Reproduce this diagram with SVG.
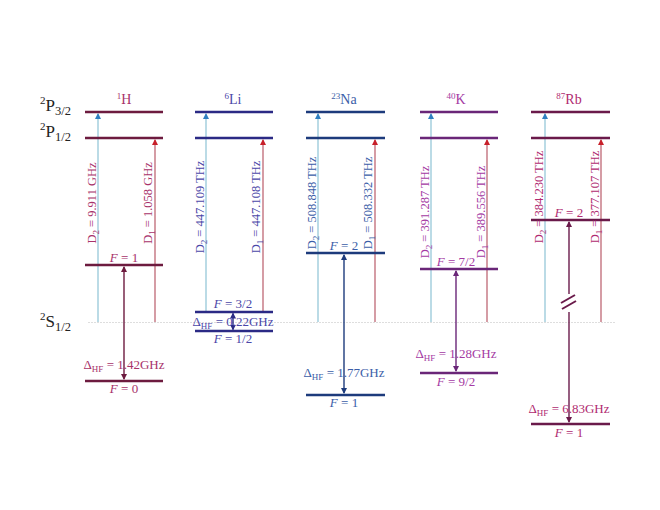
<svg xmlns="http://www.w3.org/2000/svg" width="660" height="510" viewBox="0 0 660 510">
<style>
text{font-family:"Liberation Serif","DejaVu Serif",serif;}
.lv{stroke-width:2.4;fill:none}
.d2{stroke:#8ec3d6;stroke-width:1.2}
.d1{stroke:#b24b5b;stroke-width:1.1}
.hf{stroke-width:1.4;fill:none}
.lab{font-size:13px;text-anchor:middle}
.vt{font-size:12.5px;text-anchor:middle}
.st{font-size:17px;fill:#222}
.ti{font-size:14px;text-anchor:middle}
.H{stroke:#6d1b3f}.Ht{fill:#a8326a}
.L{stroke:#2b2a85}.Lt{fill:#4b47a8}
.N{stroke:#1d3b7c}.Nt{fill:#3b5ea8}
.K{stroke:#6a2678}.Kt{fill:#a43aa3}
.R{stroke:#6a1a4a}.Rt{fill:#b02a70}
</style>
<defs>
<marker id="ab" markerWidth="6" markerHeight="6" refX="5" refY="3" orient="auto" markerUnits="userSpaceOnUse"><path d="M0,0L6,3L0,6z" fill="#2f7fc0"/></marker>
<marker id="ar" markerWidth="6" markerHeight="6" refX="5" refY="3" orient="auto" markerUnits="userSpaceOnUse"><path d="M0,0L6,3L0,6z" fill="#c8202a"/></marker>
<marker id="mH" markerWidth="6" markerHeight="6" refX="5" refY="3" orient="auto-start-reverse" markerUnits="userSpaceOnUse"><path d="M0,0L6,3L0,6z" fill="#6d1b3f"/></marker>
<marker id="mL" markerWidth="6" markerHeight="6" refX="5" refY="3" orient="auto-start-reverse" markerUnits="userSpaceOnUse"><path d="M0,0L6,3L0,6z" fill="#2b2a85"/></marker>
<marker id="mN" markerWidth="6" markerHeight="6" refX="5" refY="3" orient="auto-start-reverse" markerUnits="userSpaceOnUse"><path d="M0,0L6,3L0,6z" fill="#1d3b7c"/></marker>
<marker id="mK" markerWidth="6" markerHeight="6" refX="5" refY="3" orient="auto-start-reverse" markerUnits="userSpaceOnUse"><path d="M0,0L6,3L0,6z" fill="#6a2678"/></marker>
<marker id="mR" markerWidth="6" markerHeight="6" refX="5" refY="3" orient="auto-start-reverse" markerUnits="userSpaceOnUse"><path d="M0,0L6,3L0,6z" fill="#6a1a4a"/></marker>
</defs>

<g id="state-labels">
<text class="st" x="40" y="111"><tspan font-size="11" dy="-7">2</tspan><tspan dy="7">P</tspan><tspan font-size="12.5" dy="4">3/2</tspan></text>
<text class="st" x="40" y="137"><tspan font-size="11" dy="-7">2</tspan><tspan dy="7">P</tspan><tspan font-size="12.5" dy="4">1/2</tspan></text>
<text class="st" x="40" y="327"><tspan font-size="11" dy="-7">2</tspan><tspan dy="7">S</tspan><tspan font-size="12.5" dy="4">1/2</tspan></text>
</g>

<g id="ground-ref">
<line x1="88" y1="322.5" x2="616" y2="322.5" stroke="#d6d6d6" stroke-width="0.8" stroke-dasharray="2,1"/>
</g>

<g id="connectors">
<line class="d2" x1="98" y1="322" x2="98" y2="114" marker-end="url(#ab)"/>
<line class="d1" x1="155" y1="322" x2="155" y2="140" marker-end="url(#ar)"/>
<line class="d2" x1="206" y1="312" x2="206" y2="114" marker-end="url(#ab)"/>
<line class="d1" x1="263" y1="312" x2="263" y2="140" marker-end="url(#ar)"/>
<line class="d2" x1="318" y1="322" x2="318" y2="114" marker-end="url(#ab)"/>
<line class="d1" x1="375" y1="322" x2="375" y2="140" marker-end="url(#ar)"/>
<line class="d2" x1="431" y1="322" x2="431" y2="114" marker-end="url(#ab)"/>
<line class="d1" x1="487" y1="322" x2="487" y2="140" marker-end="url(#ar)"/>
<line class="d2" x1="545" y1="322" x2="545" y2="114" marker-end="url(#ab)"/>
<line class="d1" x1="601" y1="322" x2="601" y2="140" marker-end="url(#ar)"/>
<line class="hf H" x1="124" y1="267" x2="124" y2="379" marker-start="url(#mH)" marker-end="url(#mH)"/>
<line class="hf L" x1="233" y1="313.5" x2="233" y2="329.5" marker-start="url(#mL)" marker-end="url(#mL)"/>
<line class="hf N" x1="344" y1="255" x2="344" y2="393" marker-start="url(#mN)" marker-end="url(#mN)"/>
<line class="hf K" x1="456" y1="271" x2="456" y2="371" marker-start="url(#mK)" marker-end="url(#mK)"/>
<line class="hf R" x1="569" y1="222" x2="569" y2="294" marker-start="url(#mR)"/>
<line class="hf R" x1="569" y1="312" x2="569" y2="422" marker-end="url(#mR)"/>
<line x1="561" y1="303" x2="575" y2="295" stroke="#6a1a4a" stroke-width="2"/>
<line x1="562" y1="309" x2="576" y2="301" stroke="#6a1a4a" stroke-width="2"/>
</g>

<g id="H">
<text class="ti Ht" x="124" y="104"><tspan font-size="9" dy="-5">1</tspan><tspan dy="5">H</tspan></text>
<line class="lv H" x1="85" y1="112" x2="163" y2="112"/>
<line class="lv H" x1="85" y1="138" x2="163" y2="138"/>
<line class="lv H" x1="85" y1="265" x2="163" y2="265"/>
<line class="lv H" x1="85" y1="381" x2="163" y2="381"/>
<text class="vt Ht" transform="translate(96,203) rotate(-90)">D<tspan font-size="9" dy="3">2</tspan><tspan dy="-3"> = 9.911 GHz</tspan></text>
<text class="vt Ht" transform="translate(152,203) rotate(-90)">D<tspan font-size="9" dy="3">1</tspan><tspan dy="-3"> = 1.058 GHz</tspan></text>
<text class="lab Ht" x="124" y="262"><tspan font-style="italic">F</tspan> = 1</text>
<text class="lab Ht" x="124" y="369">Δ<tspan font-size="9" dy="3">HF</tspan><tspan dy="-3"> = 1.42GHz</tspan></text>
<text class="lab Ht" x="124" y="393"><tspan font-style="italic">F</tspan> = 0</text>
</g>

<g id="Li">
<text class="ti Lt" x="233" y="104"><tspan font-size="9" dy="-5">6</tspan><tspan dy="5">Li</tspan></text>
<line class="lv L" x1="195" y1="112" x2="273" y2="112"/>
<line class="lv L" x1="195" y1="138" x2="273" y2="138"/>
<line class="lv L" x1="195" y1="312" x2="273" y2="312"/>
<line class="lv L" x1="195" y1="331" x2="273" y2="331"/>
<text class="vt Lt" transform="translate(204,207) rotate(-90)">D<tspan font-size="9" dy="3">2</tspan><tspan dy="-3"> = 447.109 THz</tspan></text>
<text class="vt Lt" transform="translate(260,207) rotate(-90)">D<tspan font-size="9" dy="3">1</tspan><tspan dy="-3"> = 447.108 THz</tspan></text>
<text class="lab Lt" x="233" y="308"><tspan font-style="italic">F</tspan> = 3/2</text>
<text class="lab Lt" x="233" y="326">Δ<tspan font-size="9" dy="3">HF</tspan><tspan dy="-3"> = 0.22GHz</tspan></text>
<text class="lab Lt" x="233" y="343"><tspan font-style="italic">F</tspan> = 1/2</text>
</g>

<g id="Na">
<text class="ti Nt" x="344" y="104"><tspan font-size="9" dy="-5">23</tspan><tspan dy="5">Na</tspan></text>
<line class="lv N" x1="306" y1="112" x2="385" y2="112"/>
<line class="lv N" x1="306" y1="138" x2="385" y2="138"/>
<line class="lv N" x1="306" y1="253" x2="385" y2="253"/>
<line class="lv N" x1="306" y1="395" x2="385" y2="395"/>
<text class="vt Nt" transform="translate(316,203) rotate(-90)">D<tspan font-size="9" dy="3">2</tspan><tspan dy="-3"> = 508.848 THz</tspan></text>
<text class="vt Nt" transform="translate(372,203) rotate(-90)">D<tspan font-size="9" dy="3">1</tspan><tspan dy="-3"> = 508.332 THz</tspan></text>
<text class="lab Nt" x="344" y="250"><tspan font-style="italic">F</tspan> = 2</text>
<text class="lab Nt" x="344" y="377">Δ<tspan font-size="9" dy="3">HF</tspan><tspan dy="-3"> = 1.77GHz</tspan></text>
<text class="lab Nt" x="344" y="407"><tspan font-style="italic">F</tspan> = 1</text>
</g>

<g id="K">
<text class="ti Kt" x="456" y="104"><tspan font-size="9" dy="-5">40</tspan><tspan dy="5">K</tspan></text>
<line class="lv K" x1="420" y1="112" x2="498" y2="112"/>
<line class="lv K" x1="420" y1="138" x2="498" y2="138"/>
<line class="lv K" x1="420" y1="269" x2="498" y2="269"/>
<line class="lv K" x1="420" y1="373" x2="498" y2="373"/>
<text class="vt Kt" transform="translate(429,212) rotate(-90)">D<tspan font-size="9" dy="3">2</tspan><tspan dy="-3"> = 391.287 THz</tspan></text>
<text class="vt Kt" transform="translate(485,212) rotate(-90)">D<tspan font-size="9" dy="3">1</tspan><tspan dy="-3"> = 389.556 THz</tspan></text>
<text class="lab Kt" x="456" y="266"><tspan font-style="italic">F</tspan> = 7/2</text>
<text class="lab Kt" x="456" y="358">Δ<tspan font-size="9" dy="3">HF</tspan><tspan dy="-3"> = 1.28GHz</tspan></text>
<text class="lab Kt" x="456" y="386"><tspan font-style="italic">F</tspan> = 9/2</text>
</g>

<g id="Rb">
<text class="ti Rt" x="569" y="104"><tspan font-size="9" dy="-5">87</tspan><tspan dy="5">Rb</tspan></text>
<line class="lv R" x1="531" y1="112" x2="610" y2="112"/>
<line class="lv R" x1="531" y1="138" x2="610" y2="138"/>
<line class="lv R" x1="531" y1="220" x2="610" y2="220"/>
<line class="lv R" x1="531" y1="424" x2="610" y2="424"/>
<text class="vt Rt" transform="translate(543,197) rotate(-90)">D<tspan font-size="9" dy="3">2</tspan><tspan dy="-3"> = 384.230 THz</tspan></text>
<text class="vt Rt" transform="translate(599,197) rotate(-90)">D<tspan font-size="9" dy="3">1</tspan><tspan dy="-3"> = 377.107 THz</tspan></text>
<text class="lab Rt" x="569" y="217"><tspan font-style="italic">F</tspan> = 2</text>
<text class="lab Rt" x="569" y="413">Δ<tspan font-size="9" dy="3">HF</tspan><tspan dy="-3"> = 6.83GHz</tspan></text>
<text class="lab Rt" x="569" y="437"><tspan font-style="italic">F</tspan> = 1</text>
</g>
</svg>
